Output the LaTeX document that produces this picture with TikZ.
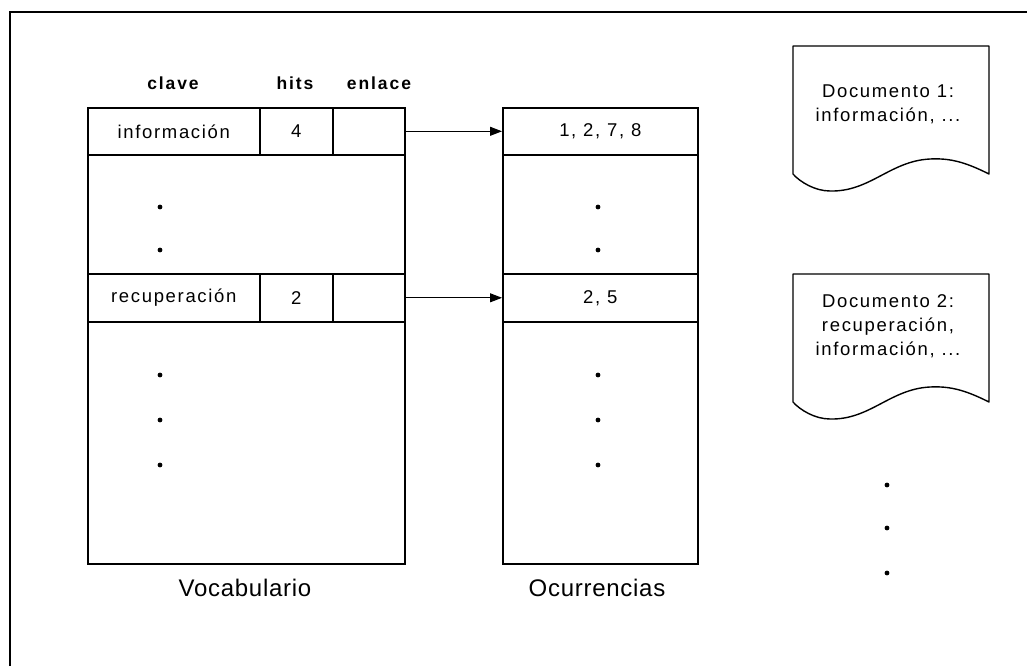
\documentclass[tikz,border=0pt]{standalone}
\usepackage{fontspec}
\setmainfont{Liberation Sans}
\usetikzlibrary{arrows.meta}
\newcommand\celltext{\fontsize{18.5}{24}\selectfont\addfontfeature{LetterSpace=9}}
\newcommand\headtext{\fontsize{17.5}{20}\selectfont\bfseries\addfontfeature{LetterSpace=11}}
\newcommand\captext{\fontsize{24}{28}\selectfont\addfontfeature{LetterSpace=3}}
\tikzset{
  cell/.style={draw, line width=1.6pt, inner sep=0pt, anchor=north west, font=\celltext},
  head/.style={inner sep=0pt, font=\headtext},
  caption/.style={inner sep=0pt, font=\captext},
  listdot/.style={circle, fill, inner sep=0pt, minimum size=4.8pt},
  link/.style={line width=1pt, -{Triangle[length=12pt,width=9pt]}},
  doctext/.style={inner sep=0pt, align=center, font=\celltext},
  docpage/.pic={
    \draw[line width=1.4pt, line join=round]
      (0,128) -- (0,0) -- (196,0) -- (196,128)
      .. controls (172,116) and (157,112) .. (137,113)
      .. controls (97,115) and (77,146) .. (37,145)
      .. controls (22,145) and (7,136) .. (0,128) -- cycle;
  }
}
\begin{document}
\begin{tikzpicture}[x=1pt,y=-1pt]
\useasboundingbox (0,0) rectangle (1027,666);

% outer frame (left and top edges)
\draw[line width=1.8pt] (10,666) -- (10,12) -- (1027,12);

% column headings
\node[head] (hclave) at (173,83) {clave};
\node[head] (hhits) at (295,83) {hits};
\node[head] (henlace) at (379,83) {enlace};

% vocabulary table
\node[cell, minimum width=172pt, minimum height=47pt] (vk1) at (87,107) {información};
\node[cell, minimum width=73pt, minimum height=47pt] (vh1) at (259,107) {4};
\node[cell, minimum width=72pt, minimum height=47pt] (ve1) at (332,107) {};
\node[cell, minimum width=317pt, minimum height=119pt] (vgap) at (87,154) {};
\node[cell, minimum width=172pt, minimum height=48pt] (vk2) at (87,273) {recuperación};
\node[cell, minimum width=73pt, minimum height=48pt] (vh2) at (259,273) {2};
\node[cell, minimum width=72pt, minimum height=48pt] (ve2) at (332,273) {};
\node[cell, minimum width=317pt, minimum height=242pt] (vrest) at (87,321) {};

% occurrence lists
\node[cell, minimum width=195pt, minimum height=47pt] (o1) at (502,107) {1, 2, 7, 8};
\node[cell, minimum width=195pt, minimum height=119pt] (ogap) at (502,154) {};
\node[cell, minimum width=195pt, minimum height=48pt] (o2) at (502,273) {2, 5};
\node[cell, minimum width=195pt, minimum height=242pt] (orest) at (502,321) {};

% links from vocabulary to occurrences
\draw[link] (ve1.east) -- (o1.west);
\draw[link] (ve2.east) -- (o2.west);

% ellipsis dots
\node[listdot] (vd1) at (160,207) {};
\node[listdot] (vd2) at (160,250) {};
\node[listdot] (vd3) at (160,375) {};
\node[listdot] (vd4) at (160,420) {};
\node[listdot] (vd5) at (160,465) {};
\node[listdot] (od1) at (598,207) {};
\node[listdot] (od2) at (598,250) {};
\node[listdot] (od3) at (598,375) {};
\node[listdot] (od4) at (598,420) {};
\node[listdot] (od5) at (598,465) {};
\node[listdot] (dd1) at (887,485) {};
\node[listdot] (dd2) at (887,528) {};
\node[listdot] (dd3) at (887,573) {};

% captions
\node[caption] (cvoc) at (245,588) {Vocabulario};
\node[caption] (cocc) at (597,588) {Ocurrencias};

% documents
\pic at (793,46) {docpage};
\node[doctext] (doc1) at (888,104) {Documento 1:\\información, ...};
\pic at (793,274) {docpage};
\node[doctext] (doc2) at (888,326) {Documento 2:\\recuperación,\\información, ...};
\end{tikzpicture}
\end{document}
